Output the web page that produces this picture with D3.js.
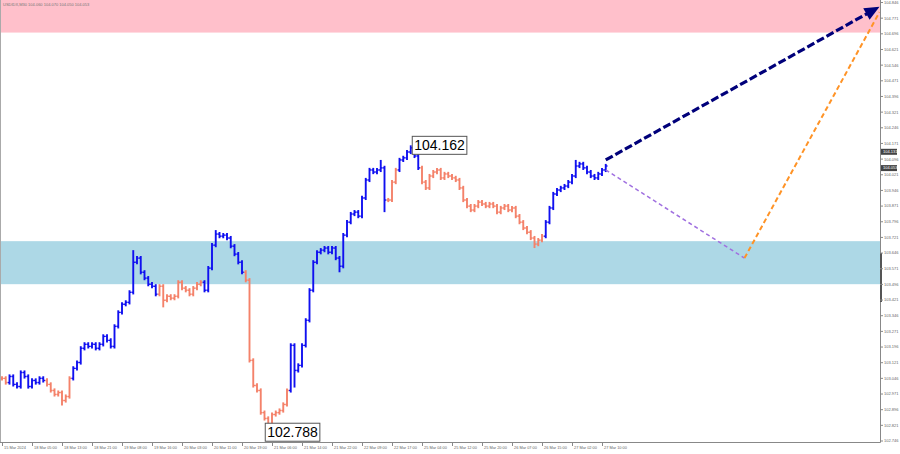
<!DOCTYPE html>
<html><head><meta charset="utf-8">
<script src="https://cdn.jsdelivr.net/npm/d3@7"></script>
<style>body{margin:0;background:#fff}svg{display:block}</style>
</head><body><svg id="c" width="900" height="454"></svg>
<script>
// ---- DATA ----
const title = "USDIDX,M30  104.060 104.070 104.050 104.053";
const closes = [
103.046,103.026,103.055,103.017,103.007,103.074,103.055,103.007,103.036,103.026,
103.046,103.036,103.017,102.988,102.969,102.978,102.940,102.959,103.046,103.094,
103.122,103.190,103.209,103.199,103.209,103.190,103.209,103.247,103.228,103.199,
103.295,103.362,103.401,103.410,103.458,103.602,103.622,103.554,103.526,103.497,
103.487,103.449,103.487,103.420,103.439,103.430,103.439,103.506,103.478,103.468,
103.449,103.478,103.497,103.506,103.468,103.574,103.684,103.737,103.727,103.732,
103.718,103.679,103.641,103.602,103.554,103.516,103.132,103.012,102.988,102.882,
102.854,102.825,102.873,102.882,102.892,102.921,102.988,103.204,103.084,103.108,
103.204,103.324,103.468,103.602,103.650,103.660,103.670,103.650,103.670,103.622,
103.583,103.732,103.794,103.833,103.842,103.823,103.910,103.996,104.044,104.034,
104.044,104.054,103.900,103.900,103.986,104.044,104.092,104.102,104.130,104.150,
104.111,104.054,103.986,103.958,104.015,104.034,104.044,104.006,104.025,104.015,
104.006,103.996,103.958,103.900,103.871,103.852,103.871,103.890,103.881,103.871,
103.881,103.871,103.842,103.862,103.871,103.852,103.862,103.823,103.794,103.766,
103.746,103.718,103.689,103.708,103.727,103.794,103.862,103.929,103.948,103.958,
103.967,103.986,104.015,104.063,104.073,104.054,104.034,104.015,104.006,104.025,
104.044,104.063];
const highOverrides = {35:103.660, 57:103.756, 101:104.092, 109:104.162, 153:104.092};
const lowOverrides = {16:102.916, 43:103.386, 71:102.788, 78:103.002, 90:103.554, 102:103.842, 142:103.670};
// wave segments: [firstBar, lastBar, direction]
const waveSegments = [[0,1,"down"],[2,11,"up"],[12,18,"down"],[19,41,"up"],[42,53,"down"],
  [54,64,"up"],[65,76,"down"],[77,102,"up"],[103,105,"down"],[106,111,"up"],[112,144,"down"],[145,161,"up"]];
const timeLabels = ["15 Mar 2024","18 Mar 05:00","18 Mar 13:00","18 Mar 21:00","19 Mar 08:00",
  "19 Mar 16:00","20 Mar 03:00","20 Mar 11:00","20 Mar 19:00","21 Mar 06:00","21 Mar 14:00",
  "21 Mar 22:00","22 Mar 09:00","22 Mar 17:00","25 Mar 04:00","25 Mar 12:00","25 Mar 20:00",
  "26 Mar 07:00","26 Mar 15:00","27 Mar 02:00","27 Mar 10:00"];
const barsPerLabel = 8;
const priceTicks = [104.846,104.771,104.696,104.621,104.546,104.471,104.396,104.321,104.246,104.171,
  104.096,104.021,103.946,103.871,103.796,103.721,103.646,103.571,103.496,103.421,103.346,103.271,
  103.196,103.121,103.046,102.971,102.896,102.821,102.746];
const zones = [{from:104.702, to:104.87, color:"#ffc0cb"},{from:103.497, to:103.703, color:"#add8e6"}];
const extremeLabels = [{bar:109, price:104.162, text:"104.162", side:"high"},{bar:71, price:102.788, text:"102.788", side:"low"}];
const navyPath = [{bar:161, price:104.092},{bar:234, price:104.826}];
const purplePath = [{bar:161, price:104.044},{bar:198, price:103.622}];
const orangePath = [{bar:198, price:103.622},{bar:234, price:104.800}];
const markerPrices = [{price:104.131, text:"104.131"},{price:104.053, text:"104.053"}];

// ---- DRAW ----
const svg = d3.select("#c");
const W = 900, H = 454, axisX = 880, axisY = 442;
const x = d3.scaleLinear().domain([0, 161]).range([2, 605.75]);
const y = d3.scaleLinear().domain([104.846, 102.746]).range([2.5, 441]);
const colorOf = {up:"#1010f0", down:"#f4826a"};
const tickFont = "Liberation Sans, Arial, sans-serif";

svg.append("rect").attr("width",W).attr("height",H).attr("fill","#fff");
svg.append("clipPath").attr("id","pc").append("rect").attr("x",0).attr("y",0).attr("width",axisX).attr("height",axisY);
const plot = svg.append("g").attr("clip-path","url(#pc)");

zones.forEach(z => {
  plot.append("rect").attr("x",0).attr("width",axisX)
    .attr("y", y(z.to)).attr("height", y(z.from)-y(z.to)).attr("fill", z.color);
});

// bars
const bars = closes.map((c,i) => {
  const o = i ? closes[i-1] : c;
  let hi = Math.max(o,c)+0.01, lo = Math.min(o,c)-0.01;
  if (highOverrides[i] !== undefined) hi = Math.max(hi, highOverrides[i]);
  if (lowOverrides[i] !== undefined) lo = Math.min(lo, lowOverrides[i]);
  const seg = waveSegments.find(s => i>=s[0] && i<=s[1]);
  return {i,o,c,hi,lo,col:colorOf[seg[2]]};
});
const bg = plot.append("g");
bars.forEach(b => {
  const cx = x(b.i);
  bg.append("line").attr("x1",cx).attr("x2",cx).attr("y1",y(b.hi)).attr("y2",y(b.lo))
    .attr("stroke",b.col).attr("stroke-width",1.9);
  bg.append("line").attr("x1",cx-1.8).attr("x2",cx).attr("y1",y(b.o)).attr("y2",y(b.o))
    .attr("stroke",b.col).attr("stroke-width",1.4);
  bg.append("line").attr("x1",cx).attr("x2",cx+1.8).attr("y1",y(b.c)).attr("y2",y(b.c))
    .attr("stroke",b.col).attr("stroke-width",1.4);
});

// projection lines
const ln = d3.line().x(d=>x(d.bar)).y(d=>y(d.price));
plot.append("path").attr("d",ln(purplePath)).attr("fill","none").attr("stroke","#a070e0")
  .attr("stroke-width",1.5).attr("stroke-dasharray","4,3");
plot.append("path").attr("d",ln(orangePath)).attr("fill","none").attr("stroke","#ff9326")
  .attr("stroke-width",2).attr("stroke-dasharray","5,3");
const nv = navyPath;
const x1 = x(nv[0].bar), y1 = y(nv[0].price), x2 = x(nv[1].bar), y2 = y(nv[1].price);
const ang = Math.atan2(y2-y1, x2-x1);
const back = 12;
plot.append("line").attr("x1",x1).attr("y1",y1)
  .attr("x2",x2-back*Math.cos(ang)).attr("y2",y2-back*Math.sin(ang))
  .attr("stroke","#00007a").attr("stroke-width",3.2).attr("stroke-dasharray","8,3");
const hw = 6.5;
const bx = x2-15*Math.cos(ang), by = y2-15*Math.sin(ang);
plot.append("path").attr("d",`M${x2},${y2}L${bx - hw*Math.sin(ang)},${by + hw*Math.cos(ang)}L${bx + hw*Math.sin(ang)},${by - hw*Math.cos(ang)}Z`)
  .attr("fill","#00007a");

// extreme labels
extremeLabels.forEach(e => {
  const g = svg.append("g");
  const t = g.append("text").attr("font-family","Liberation Sans, Arial, sans-serif").attr("font-size",14)
    .attr("fill","#000").text(e.text);
  const bw = t.node().getComputedTextLength();
  const left = e.side==="high" ? x(e.bar)+1.5 : x(e.bar)-3;
  const cy = y(e.price);
  g.insert("rect","text").attr("x",left).attr("y",cy-9).attr("width",bw+4).attr("height",18)
    .attr("fill","#fff").attr("stroke","#555").attr("stroke-width",1);
  t.attr("x",left+2).attr("y",cy+5);
});

// axes frame
svg.append("line").attr("x1",0.5).attr("x2",0.5).attr("y1",0).attr("y2",axisY).attr("stroke","#aaa");
svg.append("line").attr("x1",axisX+0.5).attr("x2",axisX+0.5).attr("y1",0).attr("y2",axisY+0.5).attr("stroke","#888");
svg.append("line").attr("x1",0).attr("x2",axisX+0.5).attr("y1",axisY+0.5).attr("y2",axisY+0.5).attr("stroke","#888");
svg.append("line").attr("x1",axisX+1).attr("x2",axisX+1).attr("y1",253).attr("y2",302).attr("stroke","#555").attr("stroke-width",2);

// right axis
const ra = svg.append("g");
priceTicks.forEach(p => {
  ra.append("line").attr("x1",axisX).attr("x2",axisX+3).attr("y1",y(p)).attr("y2",y(p)).attr("stroke","#888");
  ra.append("text").attr("x",axisX+4).attr("y",y(p)+1.4).attr("font-family",tickFont)
    .attr("font-size",4).attr("fill","#666").text(p.toFixed(3));
});
markerPrices.forEach(m => {
  ra.append("rect").attr("x",axisX+1).attr("y",y(m.price)-3).attr("width",16).attr("height",6).attr("fill","#444");
  ra.append("text").attr("x",axisX+3).attr("y",y(m.price)+1.4).attr("font-family",tickFont)
    .attr("font-size",4).attr("fill","#fff").text(m.text);
});

// bottom axis
const ba = svg.append("g");
timeLabels.forEach((t,i) => {
  const tx = x(i*barsPerLabel);
  ba.append("line").attr("x1",tx+0.5).attr("x2",tx+0.5).attr("y1",axisY).attr("y2",axisY+4).attr("stroke","#888");
  ba.append("text").attr("x",tx+2).attr("y",axisY+6.5).attr("font-family",tickFont)
    .attr("font-size",3.9).attr("fill","#666").text(t);
});

// title
svg.append("text").attr("x",3).attr("y",6).attr("font-family",tickFont)
  .attr("font-size",4).attr("fill","#777").text(title);
</script></body></html>
